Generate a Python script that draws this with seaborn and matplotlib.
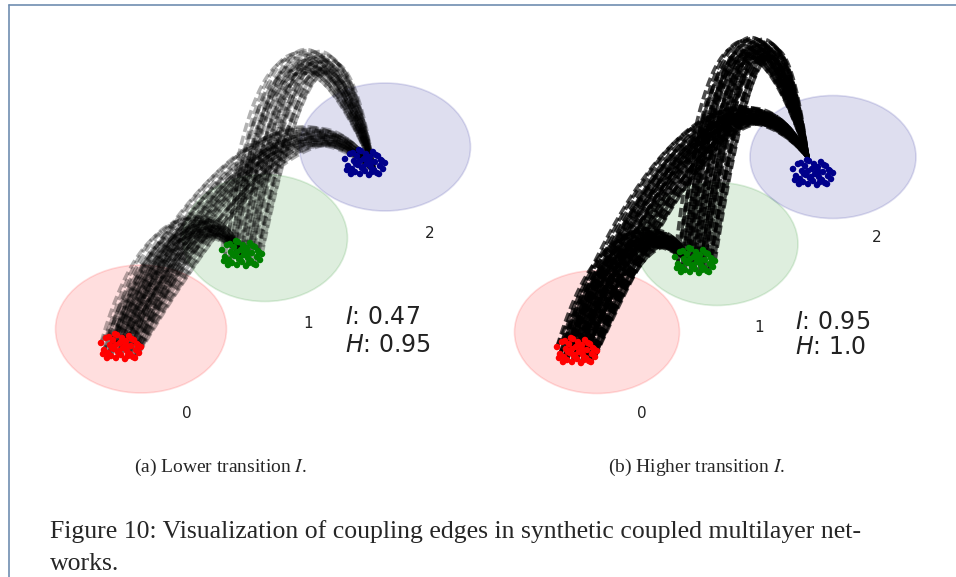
import numpy as np
import pandas as pd
import matplotlib.pyplot as plt
import seaborn as sns
from matplotlib.patches import Ellipse
from matplotlib.lines import Line2D

sns.set_theme(style="white")
plt.rcParams['font.family'] = ['DejaVu Sans']

# Layers and colours
layers = ["0", "1", "2"]
layer_colors = ["red", "green", "darkblue"]

# Node offsets inside a layer cluster (px)
node_dx = [-20, -17, -15, -13, -11, -10, -8, -7, -5, -4, -3, -1, 0, 1, 2, 4, 5, 6, 8, 9,
           10, 12, 13, 15, 16, 18, 20, -18, -12, -9, -6, -2, 3, 7, 11, 14, 17, -14, -5, 6]
node_dy = [-3, 4, -8, 7, -1, 10, -6, 3, 12, -11, 6, -3, 9, -8, 2, 13, -5, 5, -10, 8,
           0, 11, -6, 4, -2, 7, 1, 8, -9, 2, -12, 5, -4, 10, -7, 12, -1, 12, -1, 0]

# Coupling edges: source layer -> target layer
edge_src = [0, 0, 1]
edge_dst = [1, 2, 2]

# Panel (a): lower transition
a_ell_x = [141, 265, 385]
a_ell_y = [329, 238, 147]
a_ell_w = [171, 165, 171]
a_ell_h = [128, 127, 128]
a_node_x = [121, 242, 365]
a_node_y = [346, 253, 162]
a_hub_x = [242, 375, 375]
a_hub_y = [255, 173, 173]
a_ctrl_x = [185, 285, 300]
a_ctrl_y = [168, 48, -85]
a_label_x = [187, 308, 430]
a_label_y = [413, 323, 233]
a_I, a_H = "0.47", "0.95"
a_text_x, a_text_y = 345, [317, 345]

# Panel (b): higher transition
b_ell_x = [117, 237, 353]
b_ell_y = [332, 244, 157]
b_ell_w = [165, 162, 166]
b_ell_h = [123, 123, 123]
b_node_x = [97, 215, 333]
b_node_y = [350, 260, 172]
b_hub_x = [210, 328, 328]
b_hub_y = [263, 158, 158]
b_ctrl_x = [155, 240, 265]
b_ctrl_y = [185, 15, -105]
b_label_x = [162, 279, 397]
b_label_y = [413, 327, 238]
b_I, b_H = "0.95", "1.0"
b_text_x, b_text_y = 315, [322, 347]


def draw_panel(ax, ell_x, ell_y, ell_w, ell_h, node_x, node_y, hub_x, hub_y,
               ctrl_x, ctrl_y, label_x, label_y, I_val, H_val, text_x, text_y,
               edge_alpha, spread):
    for i, c in enumerate(layer_colors):
        ax.add_patch(Ellipse((ell_x[i], ell_y[i]), ell_w[i], ell_h[i],
                             facecolor=c, edgecolor=c, alpha=0.13, lw=1.2, zorder=1))
        ax.text(label_x[i], label_y[i], layers[i], fontsize=11, color="#222222",
                ha="center", va="center")

    t = np.linspace(0, 1, 70)[:, None]
    dx = np.array(node_dx)
    dy = np.array(node_dy)
    for k in range(len(edge_src)):
        s = edge_src[k]
        for j in range(len(dx)):
            p0 = np.array([node_x[s] + dx[j], node_y[s] + dy[j]])
            p1 = np.array([ctrl_x[k] + spread * dx[j], ctrl_y[k] + spread * dy[j]])
            p2 = np.array([hub_x[k], hub_y[k]])
            pts = (1 - t) ** 2 * p0 + 2 * t * (1 - t) * p1 + t ** 2 * p2
            ax.plot(pts[:, 0], pts[:, 1], color="black", lw=2.6, alpha=edge_alpha,
                    dashes=(2.6, 1.1), zorder=2)

    rows = []
    for i, name in enumerate(layers):
        for j in range(len(dx)):
            rows.append({"x": node_x[i] + dx[j], "y": node_y[i] + dy[j], "layer": name})
    df = pd.DataFrame(rows)
    sns.scatterplot(data=df, x="x", y="y", hue="layer", palette=layer_colors,
                    s=22, linewidth=0, legend=False, ax=ax, zorder=3)

    ax.text(text_x, text_y[0], f"$I$: {I_val}", fontsize=17, color="#222222",
            va="center", ha="left", math_fontfamily="dejavusans")
    ax.text(text_x, text_y[1], f"$H$: {H_val}", fontsize=17, color="#222222",
            va="center", ha="left", math_fontfamily="dejavusans")
    ax.set_xlim(0, 476)
    ax.set_ylim(420, 0)
    ax.set_axis_off()


fig = plt.figure(figsize=(9.56, 5.77), dpi=100)
W, H = 956, 577
ax_a = fig.add_axes([0 / W, 1 - 420 / H, 476 / W, 420 / H])
ax_b = fig.add_axes([480 / W, 1 - 420 / H, 476 / W, 420 / H])

draw_panel(ax_a, a_ell_x, a_ell_y, a_ell_w, a_ell_h, a_node_x, a_node_y, a_hub_x, a_hub_y,
           a_ctrl_x, a_ctrl_y, a_label_x, a_label_y, a_I, a_H, a_text_x, a_text_y,
           0.3, 1.6)
draw_panel(ax_b, b_ell_x, b_ell_y, b_ell_w, b_ell_h, b_node_x, b_node_y, b_hub_x, b_hub_y,
           b_ctrl_x, b_ctrl_y, b_label_x, b_label_y, b_I, b_H, b_text_x, b_text_y,
           0.7, 1.4)

# page frame
frame_color = "#6f8db0"
fig.add_artist(Line2D([9 / W, 1], [1 - 5 / H, 1 - 5 / H], color=frame_color, lw=1.2,
                      transform=fig.transFigure))
fig.add_artist(Line2D([9 / W, 9 / W], [0, 1 - 5 / H], color=frame_color, lw=1.2,
                      transform=fig.transFigure))

# captions
serif = "Liberation Serif"
fig.text(220 / W, 1 - 467 / H, "(a) Lower transition $I$.", family=serif, fontsize=14,
         ha="center", va="center", math_fontfamily="stix")
fig.text(697 / W, 1 - 467 / H, "(b) Higher transition $I$.", family=serif, fontsize=14,
         ha="center", va="center", math_fontfamily="stix")
fig.text(50 / W, 1 - 538 / H,
         "Figure 10: Visualization of coupling edges in synthetic coupled multilayer net-",
         family=serif, fontsize=18.5, ha="left", va="baseline")
fig.text(50 / W, 1 - 570 / H, "works.", family=serif, fontsize=18.5, ha="left", va="baseline")

fig.savefig("out.png", dpi=100)
